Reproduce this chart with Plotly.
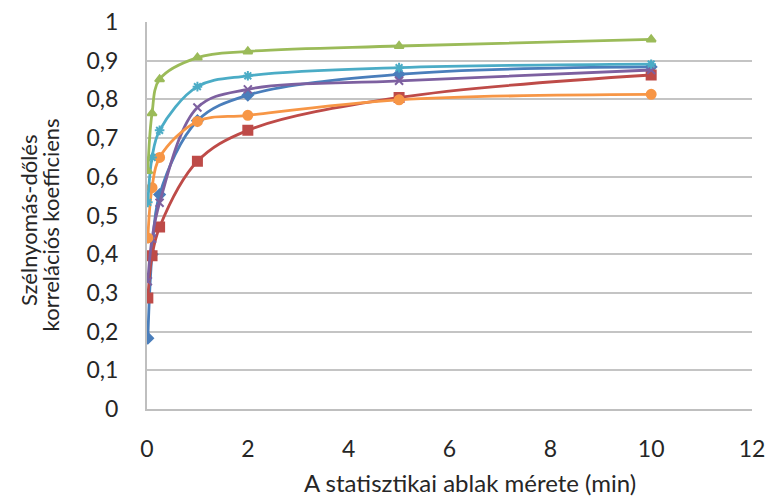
import plotly.graph_objects as go

# Window size (minutes)
window_min = [0.0167, 0.1, 0.25, 1, 2, 5, 10]

# Correlation coefficients for each series
series_blue = [0.183, 0.40, 0.554, 0.745, 0.811, 0.865, 0.884]
series_red = [0.287, 0.396, 0.470, 0.640, 0.720, 0.805, 0.863]
series_green = [0.615, 0.764, 0.852, 0.908, 0.924, 0.938, 0.955]
series_purple = [0.330, 0.440, 0.533, 0.779, 0.826, 0.848, 0.876]
series_aqua = [0.534, 0.650, 0.720, 0.833, 0.861, 0.882, 0.891]
series_orange = [0.442, 0.572, 0.650, 0.743, 0.759, 0.799, 0.813]

x_ticks = [0, 2, 4, 6, 8, 10, 12]

x_title = "A statisztikai ablak mérete (min)"
y_title_lines = ["Szélnyomás-dőlés", "korrelációs koefficiens"]

styles = [
    (series_blue, "#4A7EBB", "diamond", 8),
    (series_red, "#BE4B48", "square", 9),
    (series_purple, "#7D60A0", "x-thin-open", 8),
    (series_orange, "#F79646", "circle", 9),
    (series_aqua, "#4BACC6", "asterisk-open", 8),
    (series_green, "#9BBB59", "triangle-up", 8),
]

fig = go.Figure()
for values, color, symbol, size in styles:
    fig.add_trace(go.Scatter(
        x=window_min, y=values, mode="lines+markers",
        line=dict(color=color, width=2.8, shape="spline", smoothing=1.0),
        marker=dict(symbol=symbol, size=size, color=color,
                    line=dict(color=color, width=2)),
        showlegend=False,
    ))

font = "Lato, 'Open Sans', sans-serif"
text_color = "#262626"
fig.update_layout(
    width=769, height=500,
    margin=dict(l=147, r=17, t=22, b=91),
    paper_bgcolor="white", plot_bgcolor="white",
    separators=", ",
    font=dict(family=font, color=text_color),
)
fig.update_xaxes(
    range=[0, 12], tickvals=x_ticks, showgrid=False,
    showline=True, linecolor="#BFBFBF", linewidth=2,
    ticks="", zeroline=False, automargin=False,
    tickfont=dict(size=23, family=font, color=text_color),
    ticklabelstandoff=18,
)
fig.update_yaxes(
    range=[0, 1], dtick=0.1, showgrid=True, gridcolor="#C4C4C4", gridwidth=2,
    showline=True, linecolor="#BFBFBF", linewidth=2,
    ticks="", zeroline=False, automargin=False,
    tickfont=dict(size=23, family=font, color=text_color),
    ticklabelstandoff=22,
)

# Axis titles
fig.add_annotation(
    text=x_title, xref="paper", yref="paper", x=0.534, y=-0.191,
    xanchor="center", yanchor="middle", showarrow=False,
    font=dict(size=24, family=font, color=text_color),
)
for xp, yp, line in zip([-0.197, -0.160], [0.488, 0.475], y_title_lines):
    fig.add_annotation(
        text=line, xref="paper", yref="paper", x=xp, y=yp,
        xanchor="center", yanchor="middle", textangle=-90, showarrow=False,
        font=dict(size=22, family=font, color=text_color),
    )

fig.write_html("out.html")
